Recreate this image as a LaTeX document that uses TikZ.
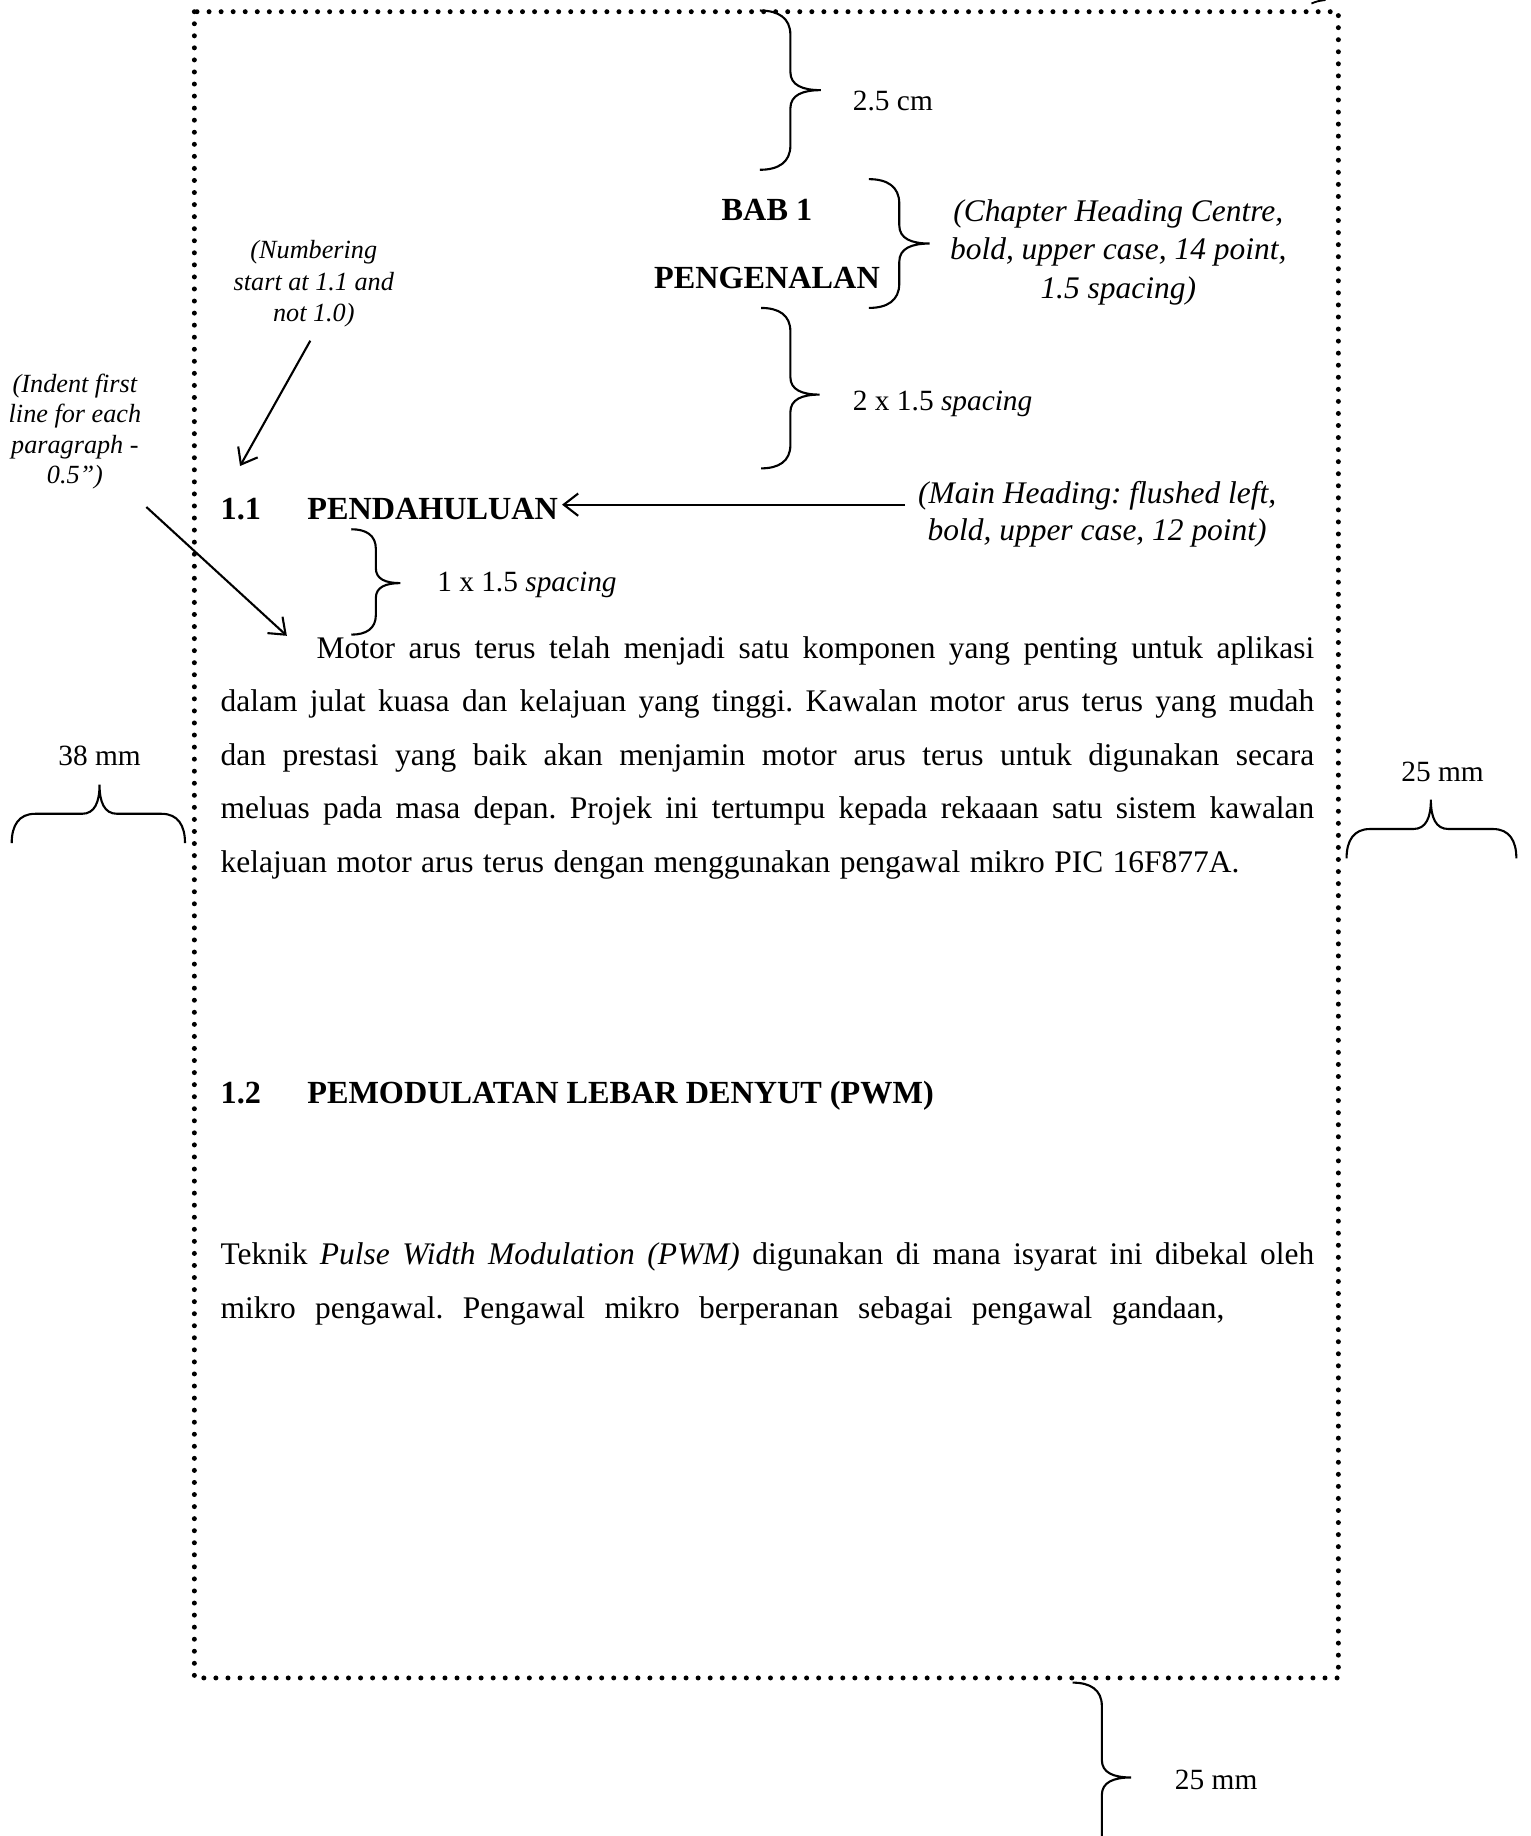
\documentclass[tikz,border=0pt]{standalone}
\usepackage{fontspec}
\setmainfont{Liberation Serif}
\usetikzlibrary{arrows.meta}

% brace pointing right: x, top, bottom, tip, amplitude
\newcommand{\vbrc}[5]{%
  \draw[brcline] (#1,#2)
    .. controls ({#1+0.3*#5},#2) and ({#1+0.5*#5},{#2+0.12*#5}) .. ({#1+0.5*#5},{#2+0.4*#5})
    -- ({#1+0.5*#5},{#4-0.3*#5})
    .. controls ({#1+0.5*#5},{#4-0.08*#5}) and ({#1+0.7*#5},#4) .. ({#1+#5},#4)
    .. controls ({#1+0.7*#5},#4) and ({#1+0.5*#5},{#4+0.08*#5}) .. ({#1+0.5*#5},{#4+0.3*#5})
    -- ({#1+0.5*#5},{#3-0.4*#5})
    .. controls ({#1+0.5*#5},{#3-0.12*#5}) and ({#1+0.3*#5},#3) .. (#1,#3);}
% brace pointing up: y, left, right, tip, amplitude
\newcommand{\hbrc}[5]{%
  \draw[brcline] (#2,#1)
    .. controls (#2,{#1-0.3*#5}) and ({#2+0.12*#5},{#1-0.5*#5}) .. ({#2+0.4*#5},{#1-0.5*#5})
    -- ({#4-0.3*#5},{#1-0.5*#5})
    .. controls ({#4-0.08*#5},{#1-0.5*#5}) and (#4,{#1-0.7*#5}) .. (#4,{#1-#5})
    .. controls (#4,{#1-0.7*#5}) and ({#4+0.08*#5},{#1-0.5*#5}) .. ({#4+0.3*#5},{#1-0.5*#5})
    -- ({#3-0.4*#5},{#1-0.5*#5})
    .. controls ({#3-0.12*#5},{#1-0.5*#5}) and (#3,{#1-0.3*#5}) .. (#3,#1);}

\begin{document}
\frenchspacing
\begin{tikzpicture}[x=0.4468pt, y=-0.4468pt,
    every node/.style={inner sep=0pt, font=\fontsize{11.2}{14}\selectfont},
    note/.style={align=center, font=\fontsize{12}{14.74}\selectfont\itshape},
    smallnote/.style={align=center, font=\fontsize{10}{12.06}\selectfont\itshape},
    heading/.style={font=\fontsize{12.3}{14.5}\selectfont\bfseries},
    para/.style={text width=417.3pt, align=justify, font=\fontsize{12}{20.44}\selectfont},
    brcline/.style={line width=0.8pt},
    arr/.style={-{Straight Barb[length=5.5pt,width=8.5pt]}, line width=0.8pt},
    margin/.style={line width=1.9pt, line cap=round, dash pattern=on 0pt off 4.6pt}]
    \useasboundingbox (0,0) rectangle (1307,1568);

    \draw[margin] (166,10) rectangle (1143,1433);
    \draw[line width=0.7pt] (1120,3) .. controls (1125,1) .. (1132,0);

    \node[anchor=base west] (cm25) at (728,94) {2.5 cm};
    \node[heading, anchor=base] (bab) at (655,188) {BAB 1};
    \node[heading, anchor=base] (pengenalan) at (655,246) {PENGENALAN};
    \node[note, anchor=base] (chapnote) at (955,255) {(Chapter Heading Centre,\\ bold, upper case, 14 point,\\ 1.5 spacing)};
    \node[smallnote, anchor=base] (numbering) at (268,275) {(Numbering\\ start at 1.1 and\\ not 1.0)};
    \node[smallnote, anchor=base, font=\fontsize{10}{11.6}\selectfont\itshape] (indent) at (64,413) {(Indent first\\ line for each\\ paragraph -\\ 0.5”)};
    \node[anchor=base west] (spacing2) at (728,351) {2 x 1.5 \textit{spacing}};
    \node[heading, anchor=base west] (num11) at (188,444) {1.1};
    \node[heading, anchor=base west] (pendahuluan) at (262,444) {PENDAHULUAN};
    \node[note, anchor=base, font=\fontsize{12}{14.3}\selectfont\itshape] (mainnote) at (937,462) {(Main Heading: flushed left,\\ bold, upper case, 12 point)};
    \node[anchor=base west] (spacing1) at (373,505) {1 x 1.5 \textit{spacing}};
    \node[para, anchor=base west] (para1) at (188,562) {\hspace*{36.6pt}Motor arus terus telah menjadi satu komponen yang penting untuk aplikasi\linebreak dalam julat kuasa dan kelajuan yang tinggi. Kawalan motor arus terus yang mudah\linebreak dan prestasi yang baik akan menjamin motor arus terus untuk digunakan secara\linebreak meluas pada masa depan. Projek ini tertumpu kepada rekaaan satu sistem kawalan\linebreak \makebox[388.7pt][s]{kelajuan motor arus terus dengan menggunakan pengawal mikro PIC 16F877A.}};
    \node[anchor=base] (mm38) at (85,654) {38 mm};
    \node[anchor=base] (mm25r) at (1232,667) {25 mm};
    \node[heading, anchor=base west] (num12) at (188,942) {1.2};
    \node[heading, anchor=base west] (pwm) at (262,942) {PEMODULATAN LEBAR DENYUT (PWM)};
    \node[para, anchor=base west] (para2) at (188,1080) {Teknik \textit{Pulse Width Modulation (PWM)} digunakan di mana isyarat ini dibekal oleh\linebreak \makebox[383pt][s]{mikro pengawal. Pengawal mikro berperanan sebagai pengawal gandaan,}};
    \node[anchor=base west] (mm25b) at (1003,1528) {25 mm};

    \vbrc{649}{9}{145}{77}{52}
    \vbrc{742}{153}{263}{208}{52}
    \vbrc{650}{263}{400}{337}{50}
    \vbrc{300}{452}{542}{498}{42}
    \hbrc{720}{10}{158}{85}{50}
    \hbrc{733}{1150}{1295}{1222}{50}
    \vbrc{916}{1437}{1600}{1518}{50}

    \coordinate (numfrom) at (265,291);
    \coordinate (numto) at (205,398);
    \coordinate (indfrom) at (125,433);
    \coordinate (indto) at (245,543);
    \coordinate (mainfrom) at (773,431);
    \coordinate (mainto) at (480,431);
    \draw[arr] (numfrom) -- (numto);
    \draw[arr] (indfrom) -- (indto);
    \draw[arr] (mainfrom) -- (mainto);
\end{tikzpicture}
\end{document}
